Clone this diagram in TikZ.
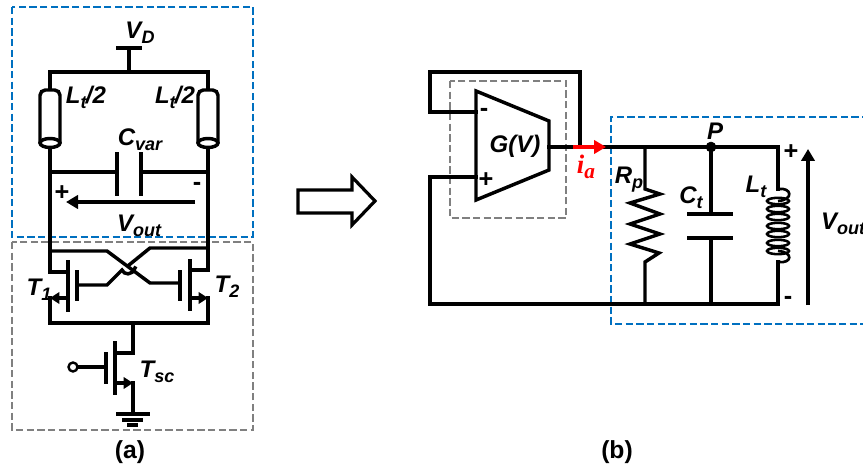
\documentclass[tikz,border=0pt]{standalone}
\usepackage{fontspec}
\setmainfont{Liberation Sans}
\newfontfamily\iafont{Liberation Serif}
\usetikzlibrary{arrows.meta}
\newcommand{\lblsub}[2]{#1\raisebox{-0.4ex}{\fontsize{13.5}{13.5}\selectfont #2}}
\definecolor{boxblue}{RGB}{0,112,192}
\tikzset{
    wire/.style={line width=2.6pt, line cap=rect, line join=miter},
    thinwire/.style={line width=2.3pt, line cap=butt},
    bluebox/.style={draw=boxblue, line width=1.8pt, dash pattern=on 5.5pt off 2.5pt},
    graybox/.style={draw=black!50, line width=1.8pt, dash pattern=on 5.5pt off 2.5pt},
    lbl/.style={font=\fontsize{18}{18}\selectfont\bfseries\itshape, inner sep=0pt},
    sign/.style={font=\fontsize{19}{19}\selectfont\bfseries, inner sep=0pt},
    caplbl/.style={font=\fontsize{18.5}{18.5}\selectfont\bfseries, inner sep=0pt},
    mos/.style={-{Triangle[length=7pt,width=8.5pt]}, line width=2.3pt},
}
\begin{document}
\begin{tikzpicture}[x=0.75pt, y=-0.75pt]
    \useasboundingbox (0,0) rectangle (863,470);
    % dashed boxes
    \draw[bluebox] (12,7) rectangle (253,237);
    \draw[graybox] (12,242) rectangle (253,430);
    \draw[graybox] (450,81) rectangle (566,218);
    \draw[bluebox] (880,117) -- (611,117) -- (611,324) -- (880,324);
    % (a) supply and tank
    \coordinate (vd) at (129,48); \coordinate (top) at (129,72);
    \coordinate (tl) at (50,72); \coordinate (tr) at (208,72);
    \draw[wire] (118,48) -- (140,48);
    \draw[wire] (vd) -- (top);
    \draw[wire] (tl) -- (tr);
    \foreach \x in {50,208} {
        \draw[wire] (\x,72) -- (\x,89);
        \draw[wire, line cap=butt, rounded corners=4pt] (\x-10,143) -- (\x-10,90) -- (\x+10,90) -- (\x+10,143);
        \draw[wire] (\x,143) ellipse (10 and 4.5);
        \draw[wire] (\x,148) -- (\x,172);
    }
    \coordinate (cl) at (117,172); \coordinate (cr) at (141,172);
    \draw[wire] (50,172) -- (cl); \draw[wire] (cr) -- (208,172);
    \draw[wire] (117,154) -- (117,194);
    \draw[wire] (141,154) -- (141,194);
    \draw[thinwire, -{Triangle[length=9pt,width=10pt]}] (195,202) -- (66,202);
    % (a) cross-coupled pair
    \coordinate (d1) at (50,272); \coordinate (d2) at (208,270);
    \coordinate (s1) at (50,298); \coordinate (s2) at (208,298);
    \coordinate (bl) at (50,323); \coordinate (br) at (208,323);
    \coordinate (tail) at (133,323);
    \draw[wire] (50,172) -- (d1) -- (68,272);
    \draw[wire] (208,172) -- (d2) -- (190,270);
    \draw[wire] (68,262) -- (68,310);
    \draw[wire] (190,261) -- (190,309);
    \draw[wire] (77,272) -- (77,299);
    \draw[wire] (180,272) -- (180,299);
    \draw[mos] (68,298) -- (50,298);
    \draw[mos] (190,298) -- (208,298);
    \draw[wire] (s1) -- (bl) -- (br) -- (s2);
    \draw[wire] (50,251) -- (107,251) -- (150,283) -- (180,283);
    \draw[wire] (77,285) -- (107,285) -- (122,270) .. controls (124,275) and (132,276) .. (135,268);
    \draw[wire] (129,265) -- (150,248) -- (208,248);
    % (a) tail transistor
    \coordinate (gnd) at (133,413);
    \draw[wire] (tail) -- (133,353) -- (115,353);
    \draw[wire] (115,343) -- (115,393);
    \draw[wire] (106,354) -- (106,382);
    \draw[wire] (78,367) -- (106,367);
    \draw[line width=1.8pt, fill=white] (73,367) circle (4.5);
    \draw[mos] (115,383) -- (133,383);
    \draw[wire] (133,383) -- (gnd);
    \draw[wire] (118,414) -- (148,414);
    \draw[wire] (124,420) -- (141,420);
    \draw[wire] (129,425) -- (136,425);
    % (a) labels
    \node[lbl] (lvd) at (140,33) {\lblsub{V}{D}};
    \node[lbl] (ll1) at (86,97) {\lblsub{L}{t}\kern-0.5pt/2};
    \node[lbl] (ll2) at (175,97) {\lblsub{L}{t}\kern-0.5pt/2};
    \node[lbl] (lcv) at (140,140) {\lblsub{C}{var}};
    \node[lbl] (lvo) at (139,226) {\lblsub{V}{out}};
    \node[sign] (lp1) at (62,193) {+};
    \node[sign] (lm1) at (197,186) {-};
    \node[lbl] (lt1) at (39,290) {\lblsub{T}{1}};
    \node[lbl] (lt2) at (227,287) {\lblsub{T}{2}};
    \node[lbl] (lts) at (157,372) {\lblsub{T}{sc}};
    \node[caplbl] (capa) at (130,452) {(a)};
    % hollow arrow
    \draw[line width=2.4pt, line join=miter] (298,190) -- (352,190) -- (352,177) -- (375,201) -- (352,225) -- (352,213) -- (298,213) -- cycle;
    % (b) amplifier
    \coordinate (am1) at (476,91); \coordinate (am2) at (549,121);
    \coordinate (am3) at (549,170); \coordinate (am4) at (476,200);
    \draw[wire] (am1) -- (am2) -- (am3) -- (am4) -- cycle;
    \draw[wire] (476,112) -- (430,112) -- (430,72) -- (580,72) -- (580,147);
    \draw[wire] (476,177) -- (430,177) -- (430,304) -- (778,304);
    \draw[wire] (549,147) -- (778,147) -- (778,189);
    % (b) tank
    \coordinate (p) at (711,147);
    \draw[wire, line cap=butt] (645,147) -- (645,189) -- (660,194) -- (630,203) -- (660,214) -- (630,224) -- (660,234) -- (630,244) -- (659,253) -- (645,262) -- (645,304);
    \draw[wire] (p) -- (711,214);
    \draw[wire] (711,238) -- (711,304);
    \draw[wire] (689,214) -- (731,214);
    \draw[wire] (689,238) -- (731,238);
    \filldraw (p) circle (5);
    % (b) coil
    \draw[line width=2pt] (778,189) .. controls (792,187) and (794,200) .. (778,201);
    \draw[line width=2pt] (778,251) .. controls (794,252) and (792,264) .. (778,262);
    \foreach \y in {201,209,217,226,234,243,251} \draw[line width=1.9pt] (778,\y) ellipse (11 and 3.2);
    \draw[wire] (778,262) -- (778,304);
    \draw[thinwire, -{Triangle[length=9pt,width=10pt]}] (808,305) -- (808,149);
    \draw[line width=2.6pt, red, -{Triangle[length=9pt,width=10pt]}] (573,147) -- (606,147);
    % (b) labels
    \node[lbl] (lg) at (515,146) {G(V)};
    \node[sign] (lam) at (484,112) {-};
    \node[sign] (lap) at (486,180) {+};
    \node[inner sep=0pt, red, font=\fontsize{20}{20}\selectfont\iafont\bfseries\itshape] (lia) at (586,167) {i\raisebox{-0.4ex}{\fontsize{16}{16}\selectfont a}};
    \node[lbl] (lpp) at (715,131) {P};
    \node[lbl] (lrp) at (629,180) {\lblsub{R}{p}};
    \node[lbl] (lct) at (691,198) {\lblsub{C}{t}};
    \node[lbl] (llt) at (756,187) {\lblsub{L}{t}};
    \node[lbl] (lvb) at (843,224) {\lblsub{V}{out}};
    \node[sign] (lpb) at (791,152) {+};
    \node[sign] (lmb) at (788,300) {-};
    \node[caplbl] (capb) at (617,452) {(b)};
\end{tikzpicture}
\end{document}
